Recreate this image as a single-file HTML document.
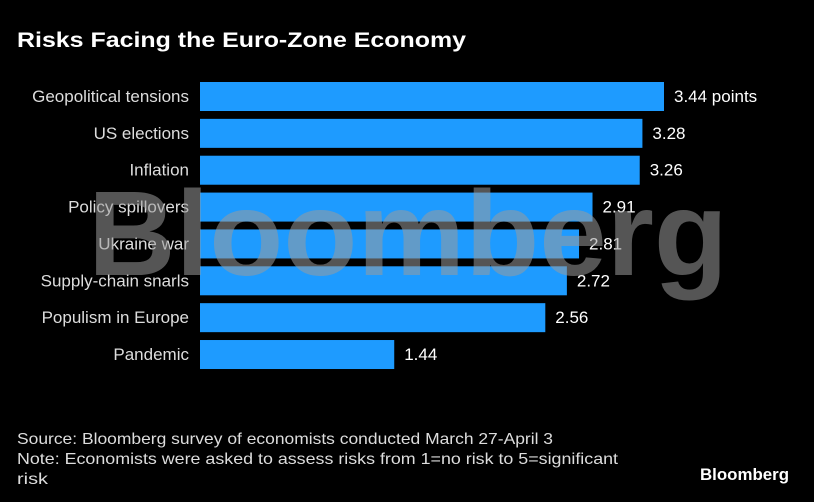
<!DOCTYPE html>
<html><head><meta charset="utf-8"><style>
html,body{margin:0;padding:0;background:#000;}
svg{display:block;font-family:"Liberation Sans",sans-serif;}
</style></head><body>
<svg id="chart" width="814" height="502" viewBox="0 0 814 502">
<rect width="814" height="502" fill="#000"/>
<text x="17" y="47" fill="#fff" font-size="21" font-weight="bold" textLength="449" lengthAdjust="spacingAndGlyphs">Risks Facing the Euro-Zone Economy</text>
<g id="bars"></g>
<text x="408" y="275" text-anchor="middle" fill="#9a9a9a" fill-opacity="0.55" font-size="121" font-weight="bold" textLength="640" lengthAdjust="spacingAndGlyphs">Bloomberg</text>
<text x="17" y="444" fill="#ddd" font-size="16" textLength="536" lengthAdjust="spacingAndGlyphs">Source: Bloomberg survey of economists conducted March 27-April 3</text>
<text x="17" y="464" fill="#ddd" font-size="16" textLength="601" lengthAdjust="spacingAndGlyphs">Note: Economists were asked to assess risks from 1=no risk to 5=significant</text>
<text x="17" y="484" fill="#ddd" font-size="16" textLength="31" lengthAdjust="spacingAndGlyphs">risk</text>
<text x="789" y="480" text-anchor="end" fill="#fff" font-size="17" font-weight="bold" textLength="89" lengthAdjust="spacingAndGlyphs">Bloomberg</text>
</svg>
<script>
const categories = ["Geopolitical tensions","US elections","Inflation","Policy spillovers","Ukraine war","Supply-chain snarls","Populism in Europe","Pandemic"];
const values = [3.44,3.28,3.26,2.91,2.81,2.72,2.56,1.44];
const valueLabels = ["3.44 points","3.28","3.26","2.91","2.81","2.72","2.56","1.44"];

const x0 = 200, pxPerUnit = 464/3.44;
const xScale = v => x0 + v * pxPerUnit;
const yBand = i => 82 + i * 36.86;
const bandH = 29;
const NS = "http://www.w3.org/2000/svg";
const g = document.getElementById("bars");
categories.forEach((c, i) => {
  const y = yBand(i);
  const r = document.createElementNS(NS, "rect");
  r.setAttribute("x", x0);
  r.setAttribute("y", y);
  r.setAttribute("width", xScale(values[i]) - x0);
  r.setAttribute("height", bandH);
  r.setAttribute("fill", "#1e9bff");
  
  
  g.appendChild(r);
  const t = document.createElementNS(NS, "text");
  t.setAttribute("x", 189);
  t.setAttribute("y", y + 20);
  t.setAttribute("text-anchor", "end");
  t.setAttribute("fill", "#ddd");
  t.setAttribute("font-size", "17");
  t.textContent = c;
  
  
  g.appendChild(t);
  const v = document.createElementNS(NS, "text");
  v.setAttribute("x", xScale(values[i]) + 10);
  v.setAttribute("y", y + 20);
  v.setAttribute("fill", "#fff");
  v.setAttribute("font-size", "17");
  v.textContent = valueLabels[i];
  
  
  g.appendChild(v);
});
</script>
</body></html>
